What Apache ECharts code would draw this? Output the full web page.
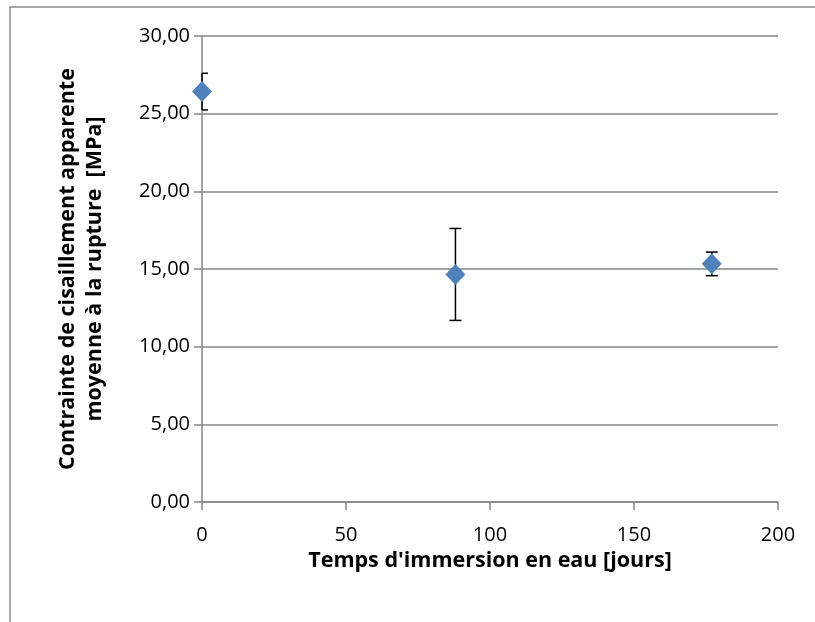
<!DOCTYPE html>
<html>
<head>
<meta charset="utf-8">
<script src="https://cdn.jsdelivr.net/npm/echarts@6/dist/echarts.min.js"></script>
<style>html,body{margin:0;padding:0;background:#fff}#c{width:815px;height:622px}</style>
</head>
<body>
<div id="c"></div>
<script>
// Data
var days = [0, 88, 177];
var stress = [26.42, 14.65, 15.33];
var stressErr = [1.18, 2.96, 0.76];
var xTicks = [0, 50, 100, 150, 200];
var yTicks = [0, 5, 10, 15, 20, 25, 30];

var chart = echarts.init(document.getElementById('c'));
var FONT = 'Open Sans';
var points = days.map(function (d, i) { return [d, stress[i]]; });
var errData = days.map(function (d, i) { return [d, stress[i] - stressErr[i], stress[i] + stressErr[i]]; });

chart.setOption({
  animation: false,
  backgroundColor: '#fff',
  graphic: [{
    type: 'rect', silent: true, z: -1,
    shape: { x: 10, y: 7, width: 1000, height: 1000 },
    style: { fill: 'none', stroke: '#8c8c8c', lineWidth: 1.5 }
  }],
  grid: { left: 202, top: 36, right: 37, bottom: 120, containLabel: false },
  xAxis: {
    type: 'value', min: 0, max: 200, interval: 50,
    name: "Temps d'immersion en eau [jours]",
    nameLocation: 'middle', nameGap: 36,
    nameTextStyle: { fontFamily: FONT, fontSize: 21.5, fontWeight: 'bold', color: '#000' },
    axisLine: { show: true, onZero: false, lineStyle: { color: '#868686', width: 1.5 } },
    axisTick: { show: true, length: 8, lineStyle: { color: '#868686', width: 1.5 } },
    axisLabel: { fontFamily: FONT, fontSize: 20, color: '#000', margin: 23 },
    splitLine: { show: false }
  },
  yAxis: {
    type: 'value', min: 0, max: 30, interval: 5,
    name: 'Contrainte de cisaillement apparente\nmoyenne à la rupture  [MPa]',
    nameLocation: 'middle', nameGap: 94, nameRotate: 90,
    nameTextStyle: { fontFamily: FONT, fontSize: 21.5, fontWeight: 'bold', color: '#000', lineHeight: 27, align: 'center' },
    axisLine: { show: true, lineStyle: { color: '#868686', width: 1.5 } },
    axisTick: { show: true, length: 8, lineStyle: { color: '#868686', width: 1.5 } },
    axisLabel: { fontFamily: FONT, fontSize: 20, color: '#000', margin: 12,
      formatter: function (v) { return v.toFixed(2).replace('.', ','); } },
    splitLine: { show: true, lineStyle: { color: '#868686', width: 1.5 } }
  },
  series: [{
    type: 'custom',
    data: errData,
    z: 3,
    renderItem: function (params, api) {
      var x = api.value(0);
      var lo = api.coord([x, api.value(1)]);
      var hi = api.coord([x, api.value(2)]);
      var half = 6;
      var cs = params.coordSys;
      var xl = Math.max(lo[0] - half, cs.x);
      var xr = Math.min(lo[0] + half, cs.x + cs.width);
      var st = { stroke: '#000', lineWidth: 1.5 };
      return {
        type: 'group',
        children: [
          { type: 'line', shape: { x1: lo[0], y1: lo[1], x2: hi[0], y2: hi[1] }, style: st },
          { type: 'line', shape: { x1: xl, y1: hi[1], x2: xr, y2: hi[1] }, style: st },
          { type: 'line', shape: { x1: xl, y1: lo[1], x2: xr, y2: lo[1] }, style: st }
        ]
      };
    }
  }, {
    type: 'scatter',
    data: points,
    symbol: 'diamond',
    symbolSize: [20, 21],
    z: 4,
    itemStyle: { color: '#4F81BD', opacity: 1 }
  }]
});
</script>
</body>
</html>
